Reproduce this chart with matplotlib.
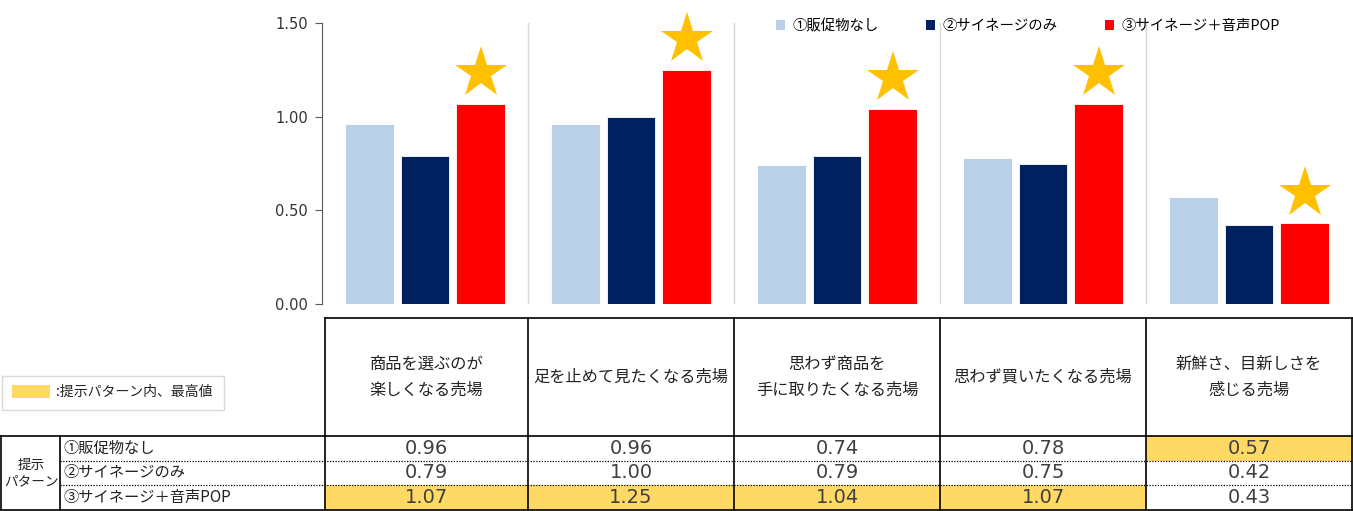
"""Bar chart + value table: store-impression scores by presentation pattern."""

import matplotlib
matplotlib.use("Agg")
import matplotlib.pyplot as plt
from matplotlib.patches import Patch, Rectangle
import numpy as np

plt.rcParams["font.family"] = ["Noto Sans CJK JP", "DejaVu Sans"]

# ── Data ──────────────────────────────────────────────────────────────────────

CATEGORIES = [
    "商品を選ぶのが\n楽しくなる売場",
    "足を止めて見たくなる売場",
    "思わず商品を\n手に取りたくなる売場",
    "思わず買いたくなる売場",
    "新鮮さ、目新しさを\n感じる売場",
]
SERIES = ["①販促物なし", "②サイネージのみ", "③サイネージ＋音声POP"]
NO_POP = [0.96, 0.96, 0.74, 0.78, 0.57]
SIGNAGE = [0.79, 1.00, 0.79, 0.75, 0.42]
SIGNAGE_VOICE = [1.07, 1.25, 1.04, 1.07, 0.43]
Y_TICKS = [0.00, 0.50, 1.00, 1.50]

# ── Style ─────────────────────────────────────────────────────────────────────

COLORS = ["#BAD0E9", "#002060", "#FF0000"]
STAR = "#FFC000"
HILITE = "#FFD966"
W, H = 1353, 511

# layout in pixels
AX_L, AX_R, AX_T, AX_B = 322, 1352, 23, 304
TAB_T, HEAD_B, TAB_B = 318, 436, 510
LABEL_X = 60

values = [NO_POP, SIGNAGE, SIGNAGE_VOICE]
n_cat = len(CATEGORIES)

fig = plt.figure(figsize=(W / 100, H / 100), dpi=100)

# ── Bars ──────────────────────────────────────────────────────────────────────

ax = fig.add_axes([AX_L / W, 1 - AX_B / H, (AX_R - AX_L) / W, (AX_B - AX_T) / H])
ax.set_facecolor("none")
x = np.arange(n_cat)
offsets = [-0.27, 0.0, 0.27]
for vals, off, col in zip(values, offsets, COLORS):
    ax.bar(x + off, vals, width=0.235, color=col, edgecolor="white", linewidth=0.6, zorder=3)

# star above the voice-POP bar
ax.plot(x + offsets[2], np.array(SIGNAGE_VOICE) + 0.165, marker="*", linestyle="none",
        markersize=39, color=STAR, markeredgewidth=0, zorder=4, clip_on=False)

for b in np.arange(n_cat - 1) + 0.5:
    ax.axvline(b, color="#D9D9D9", linewidth=1, zorder=1)

ax.set_xlim(-0.5, n_cat - 0.5)
ax.set_ylim(0, 1.5)
ax.set_yticks(Y_TICKS)
ax.set_yticklabels([f"{t:.2f}" for t in Y_TICKS], family="DejaVu Sans", fontsize=10.5, color="#333333")
ax.set_xticks([])
ax.tick_params(axis="y", direction="out", length=5, color="#595959", pad=5)
for s in ["top", "right", "bottom"]:
    ax.spines[s].set_visible(False)
ax.spines["left"].set_color("#595959")

handles = [Patch(facecolor=c, edgecolor="none") for c in COLORS]
ax.legend(handles, SERIES, loc="upper left", bbox_to_anchor=(776 / W, 1 - 19 / H),
          bbox_transform=fig.transFigure, ncol=3, frameon=False, fontsize=10.4,
          handlelength=0.62, handleheight=0.62, handletextpad=0.5, columnspacing=3.3,
          borderpad=0, borderaxespad=0)

# ── Table ─────────────────────────────────────────────────────────────────────

tab = fig.add_axes([0, 0, 1, 1])
tab.set_xlim(0, W)
tab.set_ylim(H, 0)
tab.axis("off")
tab.set_zorder(-1)

col_w = (AX_R - AX_L) / n_cat
col_edges = [AX_L + 3] + [AX_L + col_w * (i + 1) for i in range(n_cat)]
row_h = (TAB_B - HEAD_B) / len(SERIES)
row_edges = [HEAD_B + row_h * i for i in range(len(SERIES) + 1)]

# highlight the best value per category
for r, vals in enumerate(values):
    for c in range(n_cat):
        if vals[c] == max(v[c] for v in values):
            tab.add_patch(Rectangle((col_edges[c], row_edges[r]), col_edges[c + 1] - col_edges[c],
                                    row_h, facecolor=HILITE, edgecolor="none"))

lw = 1.2
# header row borders
tab.plot([col_edges[0], col_edges[-1]], [TAB_T, TAB_T], color="black", lw=lw)
for xe in col_edges:
    tab.plot([xe, xe], [TAB_T, TAB_B], color="black", lw=lw)
tab.plot([1, col_edges[-1]], [HEAD_B, HEAD_B], color="black", lw=lw)
tab.plot([1, col_edges[-1]], [TAB_B, TAB_B], color="black", lw=lw)
tab.plot([1, 1], [HEAD_B, TAB_B], color="black", lw=lw)
tab.plot([LABEL_X, LABEL_X], [HEAD_B, TAB_B], color="black", lw=lw)
for ye in row_edges[1:-1]:
    tab.plot([LABEL_X, col_edges[-1]], [ye, ye], color="black", lw=0.9, linestyle=(0, (1, 1.2)))

for c, name in enumerate(CATEGORIES):
    tab.text((col_edges[c] + col_edges[c + 1]) / 2, (TAB_T + HEAD_B) / 2, name,
             ha="center", va="center", fontsize=11.7, linespacing=1.65, color="#222222")

for r, (label, vals) in enumerate(zip(SERIES, values)):
    yc = (row_edges[r] + row_edges[r + 1]) / 2
    tab.text(LABEL_X + 3, yc, label, ha="left", va="center", fontsize=11, color="#222222")
    for c in range(n_cat):
        tab.text((col_edges[c] + col_edges[c + 1]) / 2, yc, f"{vals[c]:.2f}",
                 ha="center", va="center", fontsize=14, family="DejaVu Sans", color="#404040")

tab.text(LABEL_X / 2 + 1, (HEAD_B + TAB_B) / 2, "提示\nパターン", ha="center", va="center",
         fontsize=9.8, linespacing=1.3, color="#222222")

# key for highlighted cells
tab.add_patch(Rectangle((2, 376), 222, 34, facecolor="white", edgecolor="#D9D9D9", lw=1))
tab.add_patch(Rectangle((12, 385), 38, 13, facecolor=HILITE, edgecolor="none"))
tab.text(56, 392, ":提示パターン内、最高値", ha="left", va="center", fontsize=10, color="#222222")

fig.savefig("out.png", dpi=100)
